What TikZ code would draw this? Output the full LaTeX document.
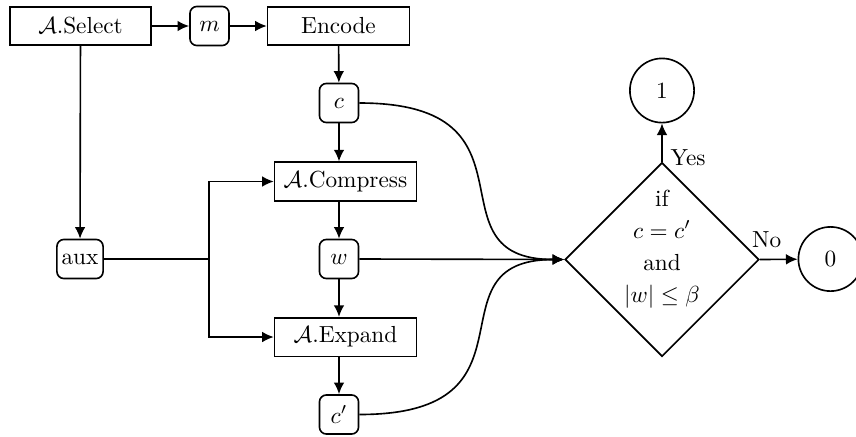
\documentclass[tikz,border=0pt]{standalone}
\usetikzlibrary{shapes.geometric,arrows.meta}
\begin{document}
\begin{tikzpicture}[x=0.43pt,y=-0.43pt,
  line width=0.7pt,
  every node/.style={font=\normalsize},
  procbox/.style={draw, minimum width=61pt, minimum height=16.6pt, inner sep=2pt},
  valbox/.style={draw, rounded corners=3pt, minimum size=16.8pt, inner sep=2pt},
  result/.style={draw, circle, minimum size=27.6pt, inner sep=0pt},
  decision/.style={draw, diamond, shape aspect=1, minimum width=83.4pt, minimum height=83.4pt, inner sep=0pt},
  arr/.style={-{Latex[length=5pt,width=4.6pt]}}]
\useasboundingbox (0,0) rectangle (856,436);

% processing steps
\node[procbox, minimum width=60.6pt] (sel) at (80.5,26) {$\mathcal{A}$.Select};
\node[valbox] (m) at (209.5,26) {$m$};
\node[procbox] (enc) at (338.5,26) {Encode};
\node[valbox] (c) at (339,103) {$c$};
\node[procbox] (comp) at (345.5,181.5) {$\mathcal{A}$.Compress};
\node[valbox, minimum width=19.8pt] (aux) at (80,259) {aux};
\node[valbox] (w) at (339,259) {$w$};
\node[procbox] (exp) at (345.5,337) {$\mathcal{A}$.Expand};
\node[valbox] (cp) at (339,414.5) {$c'$};

% final check and outcomes
\node[decision] (dec) at (662,259.5) {};
\node[align=center, inner sep=0pt] (dectext) at (662,249)
  {if\\[1.8pt] $c = c'$\\[1.8pt] and\\[1.8pt] $|w| \leq \beta$};
\node[result] (one) at (662,90.5) {1};
\node[result] (zero) at (830.5,259) {0};

\coordinate (split) at (209,259);

% connectors
\draw[arr] (sel) -- (m);
\draw[arr] (m) -- (enc);
\draw[arr] (enc) -- (c);
\draw[arr] (c) -- (c |- comp.north);
\draw[arr] (w |- comp.south) -- (w);
\draw[arr] (w) -- (w |- exp.north);
\draw[arr] (cp |- exp.south) -- (cp);
\draw[arr] (sel) -- (aux);
\draw (aux) -- (split);
\draw[arr] (split) |- (comp.west);
\draw[arr] (split) |- (exp.west);
\draw[arr] (c.east) .. controls +(190,0) and +(-140,0) .. (dec.west);
\draw[arr] (w.east) -- (dec.west);
\draw[arr] (cp.east) .. controls +(190,0) and +(-140,0) .. (dec.west);
\draw[arr] (dec.north) -- node[right, pos=0.1] (yes) {Yes} (one);
\draw[arr] (dec.east) -- node[above, pos=0.18, yshift=1.5pt] (no) {No} (zero);
\end{tikzpicture}
\end{document}
